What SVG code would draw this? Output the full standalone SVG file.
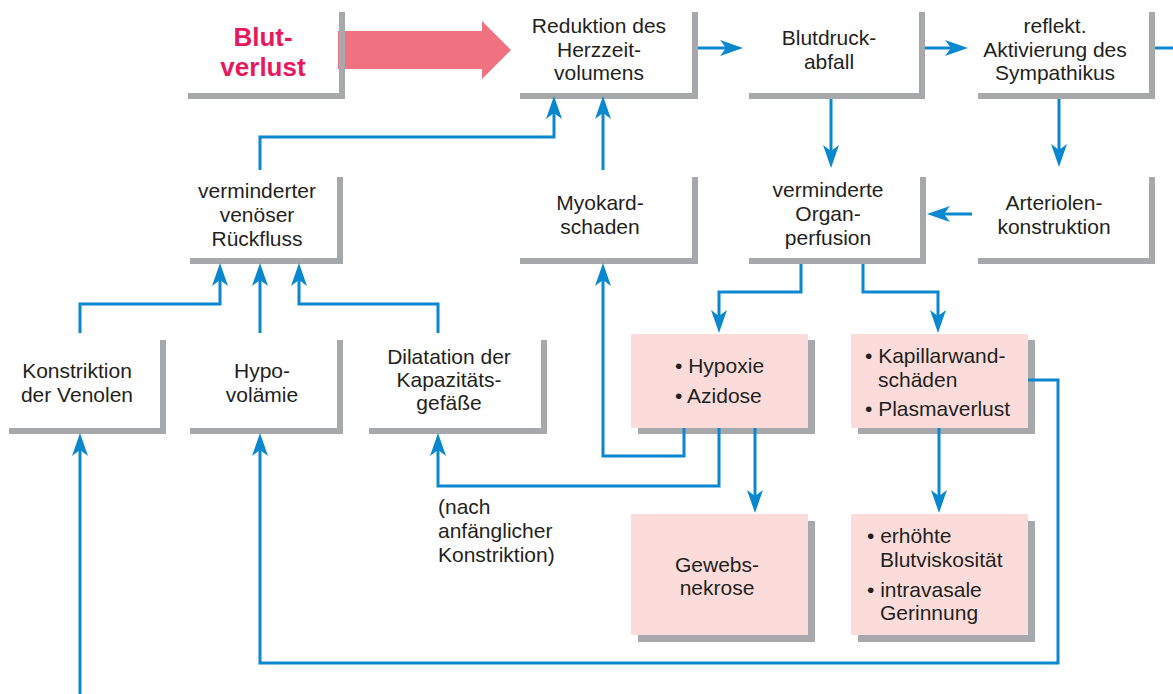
<svg xmlns="http://www.w3.org/2000/svg" width="1173" height="694" viewBox="0 0 1173 694">
<style>
  .sh { fill: none; stroke: #a7a8ab; stroke-width: 6; stroke-linejoin: miter; stroke-linecap: butt; }
  .pk { fill: #fbdcda; }
  .ps { fill: #a7a8ab; }
  .t { font-family: "Liberation Sans", Arial, sans-serif; font-size: 21px; fill: #231f20; }
  .c { text-anchor: middle; }
  .bl { font-family: "Liberation Sans", Arial, sans-serif; font-size: 26px; font-weight: bold; fill: #e8185c; text-anchor: middle; }
  .ln { fill: none; stroke: #0a88cf; stroke-width: 3; stroke-linejoin: miter; }
  .ar { marker-end: url(#ah); }
</style>
<defs>
  <marker id="ah" markerUnits="userSpaceOnUse" markerWidth="26" markerHeight="18" viewBox="-14 -9 26 18" refX="0" refY="0" orient="auto">
    <path d="M10,0 L-13,-8 L-7,0 L-13,8 Z" fill="#0a88cf"/>
  </marker>
</defs>
<rect width="1173" height="694" fill="#ffffff"/>

<g id="bigarrow">
  <polygon points="338,31 482,31 482,21 511,50 482,79 482,69 338,69" fill="#f0717f"/>
</g>

<g id="n-blutverlust">
  <polyline class="sh" points="188,96 342,96 342,12"/>
  <text class="bl" x="263" y="46">Blut-</text>
  <text class="bl" x="263" y="76">verlust</text>
</g>
<g id="n-reduktion">
  <polyline class="sh" points="520,96 695,96 695,12"/>
  <text class="t c" x="599" y="33">Reduktion des</text>
  <text class="t c" x="599" y="57">Herzzeit-</text>
  <text class="t c" x="599" y="80">volumens</text>
</g>
<g id="n-blutdruck">
  <polyline class="sh" points="749,96 922,96 922,12"/>
  <text class="t c" x="829" y="45">Blutdruck-</text>
  <text class="t c" x="829" y="69">abfall</text>
</g>
<g id="n-sympathikus">
  <polyline class="sh" points="978,96 1152,96 1152,12"/>
  <text class="t c" x="1055" y="33">reflekt.</text>
  <text class="t c" x="1055" y="57">Aktivierung des</text>
  <text class="t c" x="1055" y="80">Sympathikus</text>
</g>
<g id="n-venoes">
  <polyline class="sh" points="190,261 340,261 340,177"/>
  <text class="t c" x="257" y="198">verminderter</text>
  <text class="t c" x="257" y="222">venöser</text>
  <text class="t c" x="257" y="246">Rückfluss</text>
</g>
<g id="n-myokard">
  <polyline class="sh" points="520,261 695,261 695,177"/>
  <text class="t c" x="600" y="210">Myokard-</text>
  <text class="t c" x="600" y="234">schaden</text>
</g>
<g id="n-organ">
  <polyline class="sh" points="749,261 923,261 923,177"/>
  <text class="t c" x="828" y="197">verminderte</text>
  <text class="t c" x="828" y="221">Organ-</text>
  <text class="t c" x="828" y="245">perfusion</text>
</g>
<g id="n-arteriolen">
  <polyline class="sh" points="978,261 1152,261 1152,177"/>
  <text class="t c" x="1054" y="210">Arteriolen-</text>
  <text class="t c" x="1054" y="234">konstruktion</text>
</g>
<g id="n-konstriktion">
  <polyline class="sh" points="9,431 163,431 163,340"/>
  <text class="t c" x="77" y="378">Konstriktion</text>
  <text class="t c" x="77" y="402">der Venolen</text>
</g>
<g id="n-hypovolaemie">
  <polyline class="sh" points="190,431 340,431 340,340"/>
  <text class="t c" x="262" y="378">Hypo-</text>
  <text class="t c" x="262" y="402">volämie</text>
</g>
<g id="n-dilatation">
  <polyline class="sh" points="369,431 544,431 544,340"/>
  <text class="t c" x="449" y="364">Dilatation der</text>
  <text class="t c" x="449" y="387">Kapazitäts-</text>
  <text class="t c" x="449" y="410">gefäße</text>
</g>
<g id="n-hypoxie">
  <rect class="ps" x="638" y="340" width="177" height="94"/>
  <rect class="pk" x="631" y="334" width="177" height="94"/>
  <text class="t" x="675" y="373">• Hypoxie</text>
  <text class="t" x="675" y="403">• Azidose</text>
</g>
<g id="n-kapillar">
  <rect class="ps" x="858" y="340" width="177" height="94"/>
  <rect class="pk" x="851" y="334" width="177" height="94"/>
  <text class="t" x="865" y="363">• Kapillarwand-</text>
  <text class="t" x="878" y="387">schäden</text>
  <text class="t" x="865" y="416">• Plasmaverlust</text>
</g>
<g id="n-gewebsnekrose">
  <rect class="ps" x="638" y="521" width="177" height="121"/>
  <rect class="pk" x="631" y="514" width="177" height="121"/>
  <text class="t c" x="717" y="572">Gewebs-</text>
  <text class="t c" x="717" y="595">nekrose</text>
</g>
<g id="n-viskositaet">
  <rect class="ps" x="858" y="521" width="177" height="121"/>
  <rect class="pk" x="851" y="514" width="177" height="121"/>
  <text class="t" x="867" y="543">• erhöhte</text>
  <text class="t" x="880" y="567">Blutviskosität</text>
  <text class="t" x="867" y="597">• intravasale</text>
  <text class="t" x="880" y="620">Gerinnung</text>
</g>
<g id="label-nach">
  <text class="t" x="438" y="514">(nach</text>
  <text class="t" x="438" y="538">anfänglicher</text>
  <text class="t" x="438" y="562">Konstriktion)</text>
</g>

<g id="connectors">
  <path class="ln ar" d="M698,48 H733"/>
  <path class="ln ar" d="M925,48 H958"/>
  <path class="ln" d="M1155,48 H1173"/>
  <path class="ln ar" d="M831,99 V158"/>
  <path class="ln ar" d="M1059,99 V157"/>
  <path class="ln ar" d="M972,214 H937"/>
  <path class="ln ar" d="M603,170 V106"/>
  <path class="ln ar" d="M260,170 V137 H554 V106"/>
  <path class="ln ar" d="M80,333 V304 H220 V273"/>
  <path class="ln ar" d="M260,333 V273"/>
  <path class="ln ar" d="M438,333 V304 H299 V273"/>
  <path class="ln ar" d="M801,264 V292 H719 V323"/>
  <path class="ln ar" d="M863,264 V292 H938 V323"/>
  <path class="ln ar" d="M684,428 V456 H603 V273"/>
  <path class="ln ar" d="M719,428 V486 H438 V443"/>
  <path class="ln ar" d="M755,428 V503"/>
  <path class="ln ar" d="M939,428 V503"/>
  <path class="ln ar" d="M1028,380 H1058 V663 H260 V443"/>
  <path class="ln ar" d="M80,694 V443"/>
</g>
</svg>
